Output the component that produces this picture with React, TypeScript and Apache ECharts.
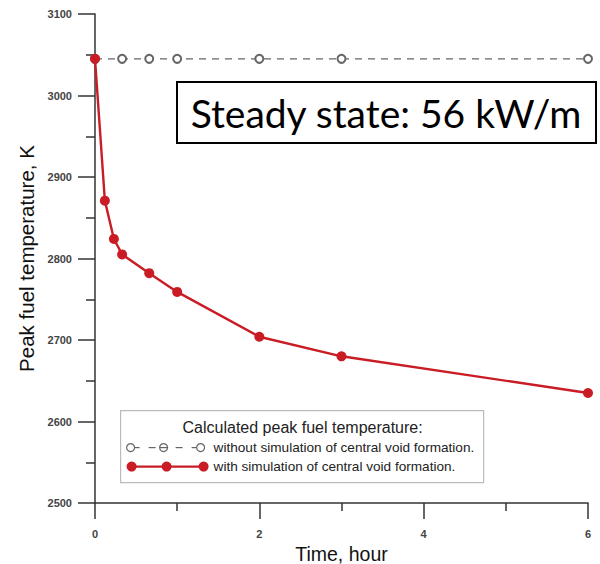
import React, { useEffect, useRef } from "react";
import * as echarts from "echarts";

const timeWith = [0, 0.12, 0.23, 0.33, 0.66, 1, 2, 3, 6];
const tempWith = [3045, 2871, 2824, 2805, 2782, 2759, 2704, 2680, 2635];
const timeWithout = [0, 0.33, 0.66, 1, 2, 3, 6];
const tempWithout = [3045, 3045, 3045, 3045, 3045, 3045, 3045];
const yTicks = { min: 2500, max: 3100, step: 100 };
const xTicks = { min: 0, max: 6, step: 2 };

const legendTitle = "Calculated peak fuel temperature:";
const legendWithout = "without simulation of central void formation.";
const legendWith = "with simulation of central void formation.";
const annotation = "Steady state: 56 kW/m";
const xName = "Time, hour";
const yName = "Peak fuel temperature, K";

const RED = "#c91c24";
const GRAY = "#666";

export default function App() {
  const ref = useRef<HTMLDivElement>(null);
  useEffect(() => {
    if (!ref.current) return;
    const chart = echarts.init(ref.current, undefined, { renderer: "svg" });
    const axisFont = { fontFamily: "Liberation Sans", fontSize: 11, color: "#444", fontWeight: "bold" as const };
    const grayStroke = { stroke: GRAY, lineWidth: 1.2 };
    const seg = (x1: number, x2: number, y: number) => ({ type: "line", shape: { x1, y1: y, x2, y2: y }, style: grayStroke });
    chart.setOption({
      animation: false,
      backgroundColor: "#fff",
      grid: { left: 95, right: 12, top: 14, bottom: 61, outerBoundsMode: "none", containLabel: false },
      xAxis: {
        type: "value",
        min: xTicks.min,
        max: xTicks.max,
        interval: xTicks.step,
        name: xName,
        nameLocation: "middle",
        nameGap: 38,
        nameTextStyle: { fontFamily: "Liberation Sans", fontSize: 19.5, color: "#111", lineHeight: 20 },
        axisLine: { show: true, lineStyle: { color: "#333", width: 1.5 } },
        axisTick: { show: true, length: 16, lineStyle: { color: "#333", width: 1.5 } },
        minorTick: { show: true, splitNumber: 2, length: 8, lineStyle: { color: "#333", width: 1.5 } },
        splitLine: { show: false },
        axisLabel: { ...axisFont, margin: 25, formatter: (v: number) => String(v) },
      },
      yAxis: {
        type: "value",
        min: yTicks.min,
        max: yTicks.max,
        interval: yTicks.step,
        name: yName,
        nameLocation: "middle",
        nameRotate: 90,
        nameGap: 40,
        nameTextStyle: { fontFamily: "Liberation Sans", fontSize: 20.5, color: "#111", lineHeight: 21 },
        axisLine: { show: true, lineStyle: { color: "#333", width: 1.5 } },
        axisTick: { show: true, length: 17, lineStyle: { color: "#333", width: 1.5 } },
        minorTick: { show: true, splitNumber: 2, length: 9, lineStyle: { color: "#333", width: 1.5 } },
        splitLine: { show: false },
        axisLabel: { ...axisFont, margin: 23, formatter: (v: number) => String(v) },
      },
      series: [
        {
          type: "line",
          name: legendWithout,
          data: timeWithout.map((t, i) => [t, tempWithout[i]]),
          symbol: "emptyCircle",
          symbolSize: 8,
          lineStyle: { color: GRAY, width: 1.2, type: [7, 6] },
          itemStyle: { color: GRAY, borderColor: GRAY, borderWidth: 1.2 },
          z: 2,
        },
        {
          type: "line",
          name: legendWith,
          data: timeWith.map((t, i) => [t, tempWith[i]]),
          symbol: "circle",
          symbolSize: 10,
          lineStyle: { color: RED, width: 2.4 },
          itemStyle: { color: RED },
          z: 3,
        },
      ],
      graphic: [
        {
          type: "group",
          left: 120,
          top: 410,
          children: [
            { type: "rect", shape: { x: 0, y: 0, width: 363, height: 72 }, style: { fill: "#fff", stroke: "#bbb", lineWidth: 1.2 } },
            { type: "text", x: 182, y: 17, style: { text: legendTitle, fontFamily: "Liberation Sans", fontSize: 16, fill: "#222", align: "center", verticalAlign: "middle" } },
            seg(14, 19, 37),
            seg(28, 35, 37),
            seg(39, 47, 37),
            seg(55, 62, 37),
            seg(71, 76, 37),
            { type: "circle", shape: { cx: 10, cy: 37, r: 4 }, style: { fill: "#fff", ...grayStroke } },
            { type: "circle", shape: { cx: 43, cy: 37, r: 4 }, style: { fill: "none", ...grayStroke } },
            { type: "circle", shape: { cx: 80, cy: 37, r: 4 }, style: { fill: "#fff", ...grayStroke } },
            { type: "text", x: 93, y: 37, style: { text: legendWithout, fontFamily: "Liberation Sans", fontSize: 13.6, fill: "#222", verticalAlign: "middle" } },
            { type: "line", shape: { x1: 11, y1: 56, x2: 83, y2: 56 }, style: { stroke: RED, lineWidth: 2.4 } },
            { type: "circle", shape: { cx: 11, cy: 56, r: 5 }, style: { fill: RED } },
            { type: "circle", shape: { cx: 46, cy: 56, r: 5 }, style: { fill: RED } },
            { type: "circle", shape: { cx: 83, cy: 56, r: 5 }, style: { fill: RED } },
            { type: "text", x: 93, y: 56, style: { text: legendWith, fontFamily: "Liberation Sans", fontSize: 13.6, fill: "#222", verticalAlign: "middle" } },
          ],
        },
        {
          type: "group",
          left: 176,
          top: 81,
          children: [
            { type: "rect", shape: { x: 0, y: 0, width: 419, height: 61 }, style: { fill: "#fff", stroke: "#000", lineWidth: 2 } },
            { type: "text", x: 209, y: 31, style: { text: annotation, fontFamily: "Lato", fontSize: 39, fill: "#000", align: "center", verticalAlign: "middle" } },
          ],
        },
      ],
    });
    return () => chart.dispose();
  }, []);
  return <div ref={ref} style={{ position: "fixed", left: 0, top: 0, width: 600, height: 564 }} />;
}
